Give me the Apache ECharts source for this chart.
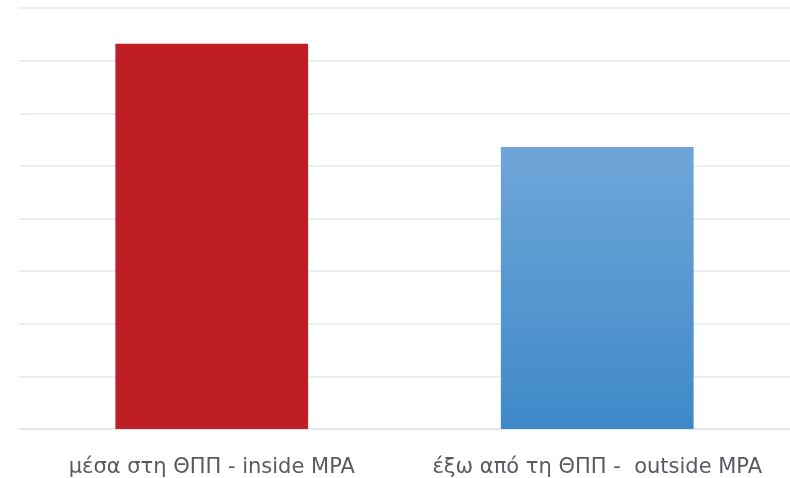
<!DOCTYPE html>
<html>
<head>
<meta charset="utf-8">
<script src="https://cdn.jsdelivr.net/npm/echarts@6/dist/echarts.min.js"></script>
<style>
  html, body { margin: 0; padding: 0; background: #ffffff; }
  #chart { width: 790px; height: 478px; }
</style>
</head>
<body>
<div id="chart"></div>
<script>
// Categories and values for the two bars
const categories = ['μέσα στη ΘΠΠ - inside MPA', 'έξω από τη ΘΠΠ -  outside MPA'];
const values = [7.32, 5.36];
const axisMax = 8;
const axisStep = 1;

const barColors = [
  '#be1e24',
  new echarts.graphic.LinearGradient(0, 0, 0, 1, [
    { offset: 0, color: '#6fa6d9' },
    { offset: 1, color: '#3f89c9' }
  ])
];

const chart = echarts.init(document.getElementById('chart'), null, { renderer: 'canvas' });
chart.setOption({
  animation: false,
  backgroundColor: '#ffffff',
  grid: { left: 19, right: 0, top: 8, bottom: 49, containLabel: false },
  xAxis: {
    type: 'category',
    data: categories,
    axisTick: { show: false },
    axisLine: { show: true, lineStyle: { color: '#e4e9f1', width: 1.5 } },
    axisLabel: {
      interval: 0,
      hideOverlap: false,
      margin: 28,
      fontFamily: 'DejaVu Sans',
      fontSize: 21,
      color: '#575b61'
    }
  },
  yAxis: {
    type: 'value',
    min: 0,
    max: axisMax,
    interval: axisStep,
    axisLabel: { show: false },
    axisLine: { show: false },
    axisTick: { show: false },
    splitLine: { show: true, lineStyle: { color: '#e4e9f1', width: 1.5 } }
  },
  series: [{
    type: 'bar',
    barWidth: '50%',
    data: values.map((v, i) => ({ value: v, itemStyle: { color: barColors[i] } }))
  }]
});
</script>
</body>
</html>
